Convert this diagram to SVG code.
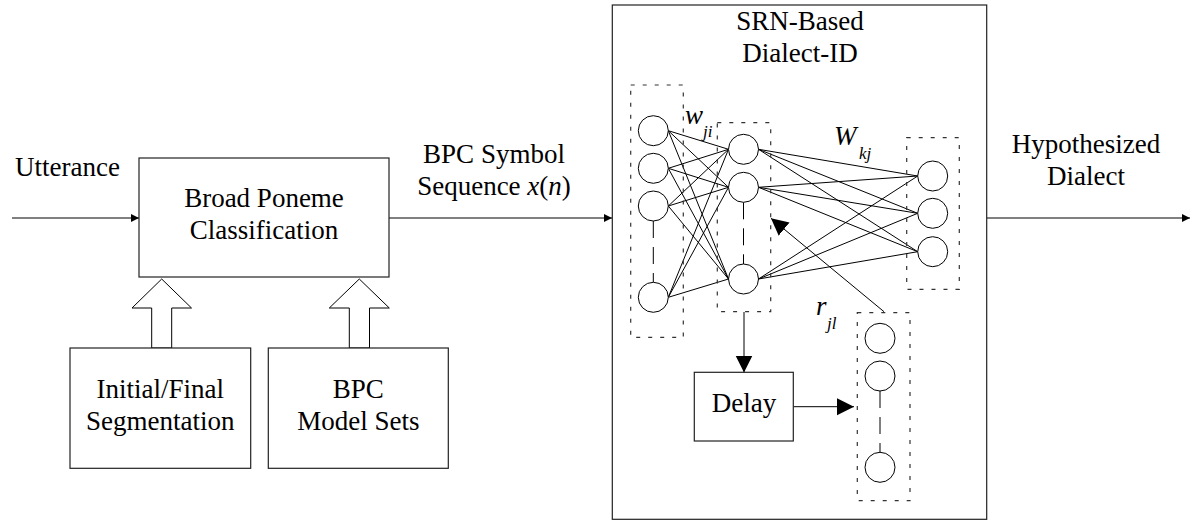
<svg xmlns="http://www.w3.org/2000/svg" width="1192" height="521" viewBox="0 0 1192 521">
<style>
text{font-family:'Liberation Serif','Times New Roman',serif;font-size:27px;fill:#000}
.it{font-style:italic}
.sub{font-size:17px;font-style:italic}
.box{fill:#fff;stroke:#222;stroke-width:1.2}
.dbox{fill:none;stroke:#333;stroke-width:1.2;stroke-dasharray:4 8}
.neu{fill:#fff;stroke:#000;stroke-width:1}
.ln{stroke:#000;stroke-width:1;fill:none}
.dl{stroke:#000;stroke-width:1;stroke-dasharray:17 9;fill:none}
.hol{fill:#fff;stroke:#000;stroke-width:1}
</style>
<defs>
<marker id="sm" markerWidth="9" markerHeight="9" refX="8" refY="4" orient="auto" markerUnits="userSpaceOnUse"><path d="M0,0 L8,4 L0,8 Z" fill="#000"/></marker>
<marker id="bg" markerWidth="18" markerHeight="18" refX="17" refY="8.5" orient="auto" markerUnits="userSpaceOnUse"><path d="M0,0 L17,8.5 L0,17 Z" fill="#000"/></marker>
</defs>
<rect width="1192" height="521" fill="#fff"/>

<g id="connectors">
<line class="ln" x1="12" y1="218" x2="139" y2="218" marker-end="url(#sm)"/>
<line class="ln" x1="389" y1="218" x2="612" y2="218" marker-end="url(#sm)"/>
<line class="ln" x1="987" y1="218" x2="1190" y2="218" marker-end="url(#sm)"/>
<polygon class="hol" points="151.7,348 151.7,308 132,308 161.7,279 191.5,308 171.7,308 171.7,348"/>
<polygon class="hol" points="349.3,348 349.3,308 329.3,308 359.3,279 389.3,308 369.5,308 369.5,348"/>
<line class="ln" x1="744" y1="312" x2="744" y2="372.5" marker-end="url(#bg)"/>
<line class="ln" x1="793.3" y1="406.7" x2="854" y2="406.7" marker-end="url(#bg)"/>
<line class="ln" x1="884" y1="311.7" x2="771" y2="218.3" marker-end="url(#bg)"/>
</g>

<g id="utterance-label"><text x="15" y="176">Utterance</text></g>
<g id="bpc-seq-label"><text x="494" y="163" text-anchor="middle">BPC Symbol</text><text x="494" y="195" text-anchor="middle">Sequence <tspan class="it">x</tspan>(<tspan class="it">n</tspan>)</text></g>
<g id="hyp-label"><text x="1086" y="153" text-anchor="middle">Hypothesized</text><text x="1086" y="185" text-anchor="middle">Dialect</text></g>

<g id="bpc-classifier">
<rect class="box" x="139" y="158" width="250" height="119"/>
<text x="264" y="207" text-anchor="middle">Broad Poneme</text>
<text x="264" y="239" text-anchor="middle">Classification</text>
</g>
<g id="segmentation">
<rect class="box" x="70" y="348" width="180.7" height="120.3"/>
<text x="160.3" y="398" text-anchor="middle">Initial/Final</text>
<text x="160.3" y="430" text-anchor="middle">Segmentation</text>
</g>
<g id="model-sets">
<rect class="box" x="268.3" y="348" width="180" height="120.3"/>
<text x="358.3" y="398" text-anchor="middle">BPC</text>
<text x="358.3" y="430" text-anchor="middle">Model Sets</text>
</g>

<g id="srn">
<rect class="box" x="612.3" y="5" width="374.4" height="514.3" style="fill:none"/>
<text x="800" y="30" text-anchor="middle">SRN-Based</text>
<text x="800" y="62" text-anchor="middle">Dialect-ID</text>
</g>

<g id="weights">
<g class="ln">
<line x1="668.3" y1="130.7" x2="728.5" y2="149.3"/><line x1="668.3" y1="130.7" x2="728.5" y2="187.3"/><line x1="668.3" y1="130.7" x2="728.5" y2="279"/>
<line x1="668.3" y1="168.3" x2="728.5" y2="149.3"/><line x1="668.3" y1="168.3" x2="728.5" y2="187.3"/><line x1="668.3" y1="168.3" x2="728.5" y2="279"/>
<line x1="668.3" y1="206" x2="728.5" y2="149.3"/><line x1="668.3" y1="206" x2="728.5" y2="187.3"/><line x1="668.3" y1="206" x2="728.5" y2="279"/>
<line x1="668.3" y1="297.3" x2="728.5" y2="149.3"/><line x1="668.3" y1="297.3" x2="728.5" y2="187.3"/><line x1="668.3" y1="297.3" x2="728.5" y2="279"/>
<line x1="758.5" y1="149.3" x2="917.7" y2="176"/><line x1="758.5" y1="149.3" x2="917.7" y2="213.3"/><line x1="758.5" y1="149.3" x2="917.7" y2="251.7"/>
<line x1="758.5" y1="187.3" x2="917.7" y2="176"/><line x1="758.5" y1="187.3" x2="917.7" y2="213.3"/><line x1="758.5" y1="187.3" x2="917.7" y2="251.7"/>
<line x1="758.5" y1="279" x2="917.7" y2="176"/><line x1="758.5" y1="279" x2="917.7" y2="213.3"/><line x1="758.5" y1="279" x2="917.7" y2="251.7"/>
</g>
</g>

<g id="input-layer">
<rect class="dbox" x="630.7" y="85" width="52.6" height="252.3"/>
<line class="dl" x1="653.3" y1="221" x2="653.3" y2="282.3"/>
<circle class="neu" cx="653.3" cy="130.7" r="15"/>
<circle class="neu" cx="653.3" cy="168.3" r="15"/>
<circle class="neu" cx="653.3" cy="206" r="15"/>
<circle class="neu" cx="653.3" cy="297.3" r="15"/>
</g>
<g id="hidden-layer">
<rect class="dbox" x="717.3" y="122.7" width="53.4" height="189"/>
<line class="dl" x1="743.5" y1="202.3" x2="743.5" y2="264"/>
<circle class="neu" cx="743.5" cy="149.3" r="15"/>
<circle class="neu" cx="743.5" cy="187.3" r="15"/>
<circle class="neu" cx="743.5" cy="279" r="15"/>
</g>
<g id="output-layer">
<rect class="dbox" x="906.7" y="137.7" width="52.6" height="151.6"/>
<circle class="neu" cx="932.7" cy="176" r="15"/>
<circle class="neu" cx="932.7" cy="213.3" r="15"/>
<circle class="neu" cx="932.7" cy="251.7" r="15"/>
</g>
<g id="context-layer">
<rect class="dbox" x="857.3" y="312.7" width="52.7" height="188"/>
<line class="dl" x1="880" y1="391" x2="880" y2="452.3"/>
<circle class="neu" cx="880" cy="338.3" r="15"/>
<circle class="neu" cx="880" cy="376" r="15"/>
<circle class="neu" cx="880" cy="467.3" r="15"/>
</g>
<g id="delay">
<rect class="box" x="694.3" y="372.3" width="99" height="68.7"/>
<text x="744" y="412" text-anchor="middle">Delay</text>
</g>

<g id="weight-labels">
<text x="685" y="124" class="it">w</text><text x="703" y="137" class="sub">ji</text>
<text x="834" y="145" class="it">W</text><text x="859" y="159" class="sub">kj</text>
<text x="816" y="315" class="it">r</text><text x="827" y="329" class="sub">jl</text>
</g>
</svg>
